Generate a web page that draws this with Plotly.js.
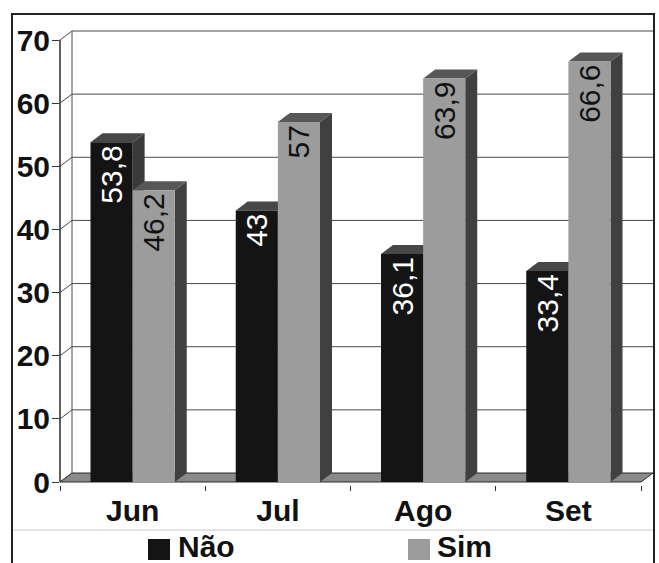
<!DOCTYPE html>
<html>
<head>
<meta charset="utf-8">
<script src="https://cdn.plot.ly/plotly-3.0.1.min.js"></script>
<style>html,body{margin:0;padding:0;background:#fff;}#chart{width:659px;height:563px;}</style>
</head>
<body>
<div id="chart"></div>
<script>
// ---- data ----
const categories = ['Jun', 'Jul', 'Ago', 'Set'];
const naoValues = [53.8, 43, 36.1, 33.4];
const simValues = [46.2, 57, 63.9, 66.6];
const seriesNames = ['Não', 'Sim'];
const yTickValues = [0, 10, 20, 30, 40, 50, 60, 70];

// ---- geometry / style ----
const FONT = 'Liberation Sans, Arial, sans-serif';
const W = 659, H = 563;
const L = 60, R = 3, T = 28, B = 78;
const plotW = W - L - R, plotH = H - T - B;
const kx = 145.25;              // px per category unit
const ky = 442 / 70;            // px per value unit
const depthX = 12 / kx, depthY = 9 / ky;   // 3D depth offset in data units
const barW = 0.29;
const xRange = [-0.5, -0.5 + plotW / kx];
const yRange = [-3 / ky, -3 / ky + plotH / ky];
const xLo = -0.5, xHi = categories.length - 0.5;

const C = {
  naoFront: '#141414', naoTop: '#474747', naoSide: '#3a3a3a',
  simFront: '#9c9c9c', simTop: '#575757', simSide: '#404040',
  floor: '#8a8a8a', edge: '#2a2a2a', grid: '#4a4a4a'
};
const xp = px => (px - L) / plotW;
const yp = py => (H - B - py) / plotH;

const shapes = [];
// floor
shapes.push({type: 'path', xref: 'x', yref: 'y', layer: 'below',
  path: `M${xLo},0 L${xHi},0 L${xHi + depthX},${depthY} L${xLo + depthX},${depthY} Z`,
  fillcolor: C.floor, line: {color: C.edge, width: 1}});
// back wall left edge
shapes.push({type: 'line', xref: 'x', yref: 'y', layer: 'below',
  x0: xLo + depthX, x1: xLo + depthX, y0: depthY, y1: 70 + depthY,
  line: {color: C.grid, width: 1}});
// gridlines on back wall + diagonal connectors
yTickValues.forEach(v => {
  if (v > 0) {
    shapes.push({type: 'line', xref: 'x', yref: 'y', layer: 'below',
      x0: xLo + depthX, x1: xHi + depthX, y0: v + depthY, y1: v + depthY,
      line: {color: C.grid, width: 1}});
  }
  shapes.push({type: 'line', xref: 'x', yref: 'y', layer: 'below',
    x0: xLo, x1: xLo + depthX, y0: v, y1: v + depthY,
    line: {color: C.grid, width: 1}});
});
// top and side faces of the bars
function faces(left, right, v, topColor, sideColor) {
  shapes.push({type: 'path', xref: 'x', yref: 'y', layer: 'below',
    path: `M${right},0 L${right},${v} L${right + depthX},${v + depthY} L${right + depthX},${depthY} Z`,
    fillcolor: sideColor, line: {width: 0}});
  shapes.push({type: 'path', xref: 'x', yref: 'y', layer: 'below',
    path: `M${left},${v} L${right},${v} L${right + depthX},${v + depthY} L${left + depthX},${v + depthY} Z`,
    fillcolor: topColor, line: {width: 0}});
}
categories.forEach((c, i) => {
  faces(i - barW, i, naoValues[i], C.naoTop, C.naoSide);
  faces(i, i + barW, simValues[i], C.simTop, C.simSide);
});
// front y axis line
shapes.push({type: 'line', xref: 'paper', yref: 'y', layer: 'above',
  x0: 0, x1: 0, y0: 0, y1: 70, line: {color: C.edge, width: 1.5}});
// outer frame and legend separator
shapes.push({type: 'rect', xref: 'paper', yref: 'paper', layer: 'above',
  x0: xp(12), x1: xp(654), y0: yp(620), y1: yp(14), line: {color: '#222', width: 2}});
shapes.push({type: 'line', xref: 'paper', yref: 'paper', layer: 'above',
  x0: xp(13), x1: xp(653), y0: yp(530), y1: yp(530), line: {color: '#c8c8c8', width: 1}});
// legend swatches
shapes.push({type: 'rect', xref: 'paper', yref: 'paper', layer: 'above',
  x0: xp(148), x1: xp(170), y0: yp(560), y1: yp(539), fillcolor: C.naoFront, line: {width: 0}});
shapes.push({type: 'rect', xref: 'paper', yref: 'paper', layer: 'above',
  x0: xp(408), x1: xp(430), y0: yp(560), y1: yp(539), fillcolor: C.simFront, line: {width: 0}});

const fmt = v => String(v).replace('.', ',');
const xIdx = categories.map((c, i) => i);

const traces = [
  {type: 'bar', name: seriesNames[0], x: xIdx, y: naoValues, width: barW, offset: -barW,
   marker: {color: C.naoFront, line: {width: 0}},
   text: naoValues.map(fmt), textposition: 'inside', insidetextanchor: 'end', textangle: -90,
   textfont: {family: FONT, size: 30, color: '#ffffff'}, cliponaxis: false, hoverinfo: 'skip'},
  {type: 'bar', name: seriesNames[1], x: xIdx, y: simValues, width: barW, offset: 0,
   marker: {color: C.simFront, line: {width: 0}},
   text: simValues.map(fmt), textposition: 'inside', insidetextanchor: 'end', textangle: -90,
   textfont: {family: FONT, size: 30, color: '#111111'}, cliponaxis: false, hoverinfo: 'skip'}
];

const layout = {
  width: W, height: H,
  margin: {l: L, r: R, t: T, b: B, pad: 0},
  paper_bgcolor: '#ffffff', plot_bgcolor: '#ffffff',
  barmode: 'overlay', showlegend: false,
  font: {family: FONT, color: '#111'},
  xaxis: {
    type: 'linear', range: xRange, fixedrange: true,
    tickmode: 'array', tickvals: xIdx, ticktext: categories, ticks: '',
    tickfont: {family: FONT, size: 30, weight: 700, color: '#111'},
    ticklabelstandoff: 5,
    minor: {tickmode: 'array', tickvals: [-0.5, 0.5, 1.5, 2.5, 3.5], ticks: 'outside', ticklen: 5, tickcolor: '#333', tickwidth: 1, showgrid: false},
    showgrid: false, zeroline: false, showline: false
  },
  yaxis: {
    range: yRange, fixedrange: true,
    tickmode: 'array', tickvals: yTickValues,
    ticks: 'outside', ticklen: 7, tickcolor: '#333', tickwidth: 1,
    tickfont: {family: FONT, size: 30, weight: 700, color: '#111'},
    ticklabelstandoff: -4,
    showgrid: false, zeroline: false, showline: false
  },
  shapes: shapes,
  annotations: [
    {xref: 'paper', yref: 'paper', x: xp(177), y: yp(546), xanchor: 'left', yanchor: 'middle',
     text: seriesNames[0], showarrow: false, borderpad: 0, font: {family: FONT, size: 30, weight: 700, color: '#111'}},
    {xref: 'paper', yref: 'paper', x: xp(436), y: yp(546), xanchor: 'left', yanchor: 'middle',
     text: seriesNames[1], showarrow: false, borderpad: 0, font: {family: FONT, size: 30, weight: 700, color: '#111'}}
  ]
};

Plotly.newPlot('chart', traces, layout, {staticPlot: true, displayModeBar: false});
</script>
</body>
</html>
